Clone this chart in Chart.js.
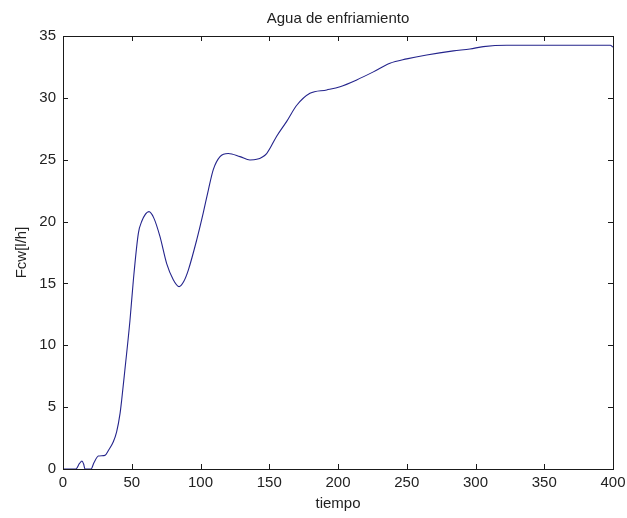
<!DOCTYPE html>
<html>
<head>
<meta charset="utf-8">
<title>Agua de enfriamiento</title>
<script src="https://cdn.jsdelivr.net/npm/chart.js@4.4.1/dist/chart.umd.min.js"></script>
<style>
  html, body { margin: 0; padding: 0; background: #ffffff; }
  canvas { display: block; }
</style>
</head>
<body>
<canvas id="chart" width="627" height="518"></canvas>
<script>
// Cooling water flow over time
const tiempo = [0, 9.3, 12, 13.8, 15, 16, 20.4, 22.5, 25.7, 30.5, 33, 36.6, 39, 41.5, 42.7, 45,
  48.7, 51.2, 54.8, 57.2, 62.5, 66, 70.5, 75.4, 80.2, 84.4, 88, 91.2, 97.2, 102, 105.7,
  109.3, 114.2, 120.2, 128.7, 136, 140.9, 148.1, 155.4, 162.7, 170, 179.6, 191.8, 201.5,
  213.6, 225.7, 237.8, 250, 264.5, 283.9, 296, 305.7, 322.7, 360, 398, 400];
const fcw = [0, 0, 0.45, 0.65, 0.4, 0, 0, 0.5, 1.05, 1.1, 1.5, 2.2, 3.0, 4.5, 5.6, 8.0,
  12.0, 15.3, 19.05, 20.0, 20.8, 20.3, 18.8, 16.6, 15.3, 14.74, 15.2, 16.1, 18.5, 20.7, 22.55,
  24.2, 25.25, 25.5, 25.25, 24.98, 25.03, 25.5, 26.9, 28.1, 29.4, 30.37, 30.64, 30.9,
  31.45, 32.1, 32.8, 33.15, 33.47, 33.8, 33.95, 34.14, 34.25, 34.25, 34.25, 34.1];
const xTicks = [0, 50, 100, 150, 200, 250, 300, 350, 400];
const yTicks = [0, 5, 10, 15, 20, 25, 30, 35];
const chartTitle = 'Agua de enfriamiento';

const FONT = { family: '"Liberation Sans", Arial, Helvetica, sans-serif', size: 15 };
const INK = '#222222';

// Box around the axes with inward tick marks on all four sides
const frameTicks = {
  id: 'frameTicks',
  afterDatasetsDraw(chart) {
    const { ctx, chartArea: a, scales: { x, y } } = chart;
    const L = 5;
    ctx.save();
    ctx.strokeStyle = '#1a1a1a';
    ctx.lineWidth = 1;
    ctx.beginPath();
    x.ticks.forEach(t => {
      const px = Math.round(x.getPixelForValue(t.value)) + 0.5;
      ctx.moveTo(px, a.bottom); ctx.lineTo(px, a.bottom - L);
      ctx.moveTo(px, a.top); ctx.lineTo(px, a.top + L);
    });
    y.ticks.forEach(t => {
      const py = Math.round(y.getPixelForValue(t.value)) + 0.5;
      ctx.moveTo(a.left, py); ctx.lineTo(a.left + L, py);
      ctx.moveTo(a.right, py); ctx.lineTo(a.right - L, py);
    });
    ctx.stroke();
    ctx.strokeRect(Math.round(a.left) + 0.5, Math.round(a.top) + 0.5,
      Math.round(a.right - a.left), Math.round(a.bottom - a.top));
    ctx.restore();
  }
};

// Title centred over the plotting box rather than the whole canvas
const axesTitle = {
  id: 'axesTitle',
  afterDraw(chart) {
    const { ctx, chartArea: a } = chart;
    ctx.save();
    ctx.fillStyle = INK;
    ctx.font = `${FONT.size}px ${FONT.family}`;
    ctx.textAlign = 'center';
    ctx.textBaseline = 'middle';
    ctx.fillText(chartTitle, (a.left + a.right) / 2, 19);
    ctx.restore();
  }
};

new Chart(document.getElementById('chart'), {
  type: 'line',
  data: {
    datasets: [{
      data: tiempo.map((t, i) => ({ x: t, y: fcw[i] })),
      borderColor: '#24248c',
      borderWidth: 1.1,
      pointRadius: 0,
      fill: false,
      cubicInterpolationMode: 'monotone'
    }]
  },
  options: {
    responsive: false,
    animation: false,
    devicePixelRatio: 1,
    layout: { padding: { left: 0, right: 14, top: 36, bottom: 0 } },
    plugins: {
      legend: { display: false },
      tooltip: { enabled: false },
      title: { display: false }
    },
    scales: {
      x: {
        type: 'linear',
        min: 0, max: 400,
        afterBuildTicks(scale) { scale.ticks = xTicks.map(v => ({ value: v })); },
        afterFit(scale) { scale.height = 49; scale.paddingLeft = 0; scale.paddingRight = 0; },
        grid: { display: false, drawTicks: false },
        border: { display: false },
        ticks: { color: INK, font: FONT, padding: 5, maxRotation: 0, autoSkip: false },
        title: { display: true, text: 'tiempo', color: INK, font: FONT, padding: { top: 0, bottom: 5 } }
      },
      y: {
        type: 'linear',
        min: 0, max: 35,
        afterBuildTicks(scale) { scale.ticks = yTicks.map(v => ({ value: v })); },
        afterFit(scale) { scale.width = 63; scale.paddingTop = 0; scale.paddingBottom = 0; },
        grid: { display: false, drawTicks: false },
        border: { display: false },
        ticks: { color: INK, font: FONT, padding: 7 },
        title: { display: true, text: 'Fcw[l/h]', color: INK, font: FONT, padding: { top: 13, bottom: 0 } }
      }
    }
  },
  plugins: [frameTicks, axesTitle]
});
</script>
</body>
</html>
